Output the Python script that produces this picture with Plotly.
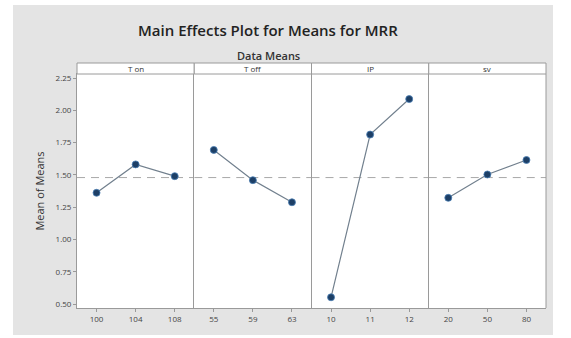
import plotly.graph_objects as go
from plotly.subplots import make_subplots

factors = ["T on", "T off", "IP", "sv"]
levels = [["100", "104", "108"], ["55", "59", "63"], ["10", "11", "12"], ["20", "50", "80"]]
means = [[1.361, 1.581, 1.490], [1.693, 1.459, 1.288], [0.552, 1.812, 2.087], [1.322, 1.503, 1.615]]
grand_mean = 1.479
y_ticks = [0.50, 0.75, 1.00, 1.25, 1.50, 1.75, 2.00, 2.25]

W, H = 571, 338
ml, mr, mt, mb = 77, 25, 63, 30
plot_h = H - mt - mb
plot_w = W - ml - mr
strip_h = 11
ytop = 1 - strip_h / plot_h
edge = "#9a9a9a"

fig = make_subplots(rows=1, cols=4, shared_yaxes=True, horizontal_spacing=0)

for i in range(4):
    fig.add_trace(go.Scatter(
        x=[-0.5, 2.5], y=[grand_mean, grand_mean], mode="lines",
        line=dict(color="#a8a8a8", width=1, dash="8px,6px"),
        showlegend=False, hoverinfo="skip"), row=1, col=i + 1)
    fig.add_trace(go.Scatter(
        x=[0, 1, 2], y=means[i], mode="lines+markers",
        line=dict(color="#72808e", width=1.2),
        marker=dict(color="#1d3f66", size=7, line=dict(color="#4a7fb5", width=0.8)),
        showlegend=False, hoverinfo="skip"), row=1, col=i + 1)
    fig.update_xaxes(range=[-0.5, 2.5], tickvals=[0, 1, 2], ticktext=levels[i],
                     ticks="outside", ticklen=3, tickcolor="#999999",
                     showgrid=False, zeroline=False, showline=True, linecolor=edge,
                     mirror=True, linewidth=1,
                     tickfont=dict(size=8, color="#444444", family="Open Sans"),
                     row=1, col=i + 1)

fig.update_yaxes(range=[0.469, 2.281], domain=[0, ytop], tickvals=y_ticks,
                 ticktext=[f"{v:.2f}" for v in y_ticks],
                 showgrid=False, zeroline=False, showline=True, linecolor=edge,
                 mirror=False, linewidth=1)
fig.update_yaxes(ticks="outside", ticklen=3, tickcolor="#999999",
                 tickfont=dict(size=8, color="#444444", family="Open Sans"),
                 title=dict(text="Mean of Means", font=dict(size=11, color="#333333", family="Open Sans"),
                            standoff=8),
                 row=1, col=1)

shapes = [dict(type="rect", xref="paper", yref="paper",
               x0=(13 - ml) / plot_w, x1=(553 - ml) / plot_w,
               y0=-(mb - 3) / plot_h, y1=1 + (mt - 5) / plot_h,
               fillcolor="#e4e4e4", line=dict(width=0), layer="below"),
          dict(type="rect", xref="paper", yref="paper", x0=0, x1=1, y0=0, y1=ytop,
               fillcolor="white", line=dict(width=0), layer="below"),
          dict(type="line", xref="paper", yref="paper", x0=1, x1=1, y0=0, y1=ytop,
               line=dict(color=edge, width=1))]
annotations = []
for i in range(4):
    x0, x1 = i / 4, (i + 1) / 4
    shapes.append(dict(type="rect", xref="paper", yref="paper", x0=x0, x1=x1,
                       y0=ytop, y1=1, fillcolor="white", line=dict(color=edge, width=1)))
    annotations.append(dict(text=factors[i], xref="paper", yref="paper", x=(x0 + x1) / 2,
                            y=(ytop + 1) / 2, xanchor="center", yanchor="middle", showarrow=False,
                            font=dict(size=8, color="#333333", family="Open Sans")))

tx = (268 - ml) / plot_w
annotations.append(dict(text="Main Effects Plot for Means for MRR", xref="paper", yref="paper",
                        x=tx, y=1 + (mt - 30) / plot_h, xanchor="center", yanchor="middle",
                        showarrow=False,
                        font=dict(size=15, color="#222222", family="Open Sans", weight=600)))
annotations.append(dict(text="Data Means", xref="paper", yref="paper",
                        x=tx, y=1 + (mt - 55) / plot_h, xanchor="center", yanchor="middle",
                        showarrow=False,
                        font=dict(size=11, color="#333333", family="Open Sans", weight=600)))

fig.update_layout(
    width=W, height=H,
    margin=dict(l=ml, r=mr, t=mt, b=mb),
    paper_bgcolor="white", plot_bgcolor="white",
    shapes=shapes, annotations=annotations,
)

fig.write_html("out.html", config={"displayModeBar": False},
               post_script="document.body.style.margin='0';document.body.style.overflow='hidden';")
